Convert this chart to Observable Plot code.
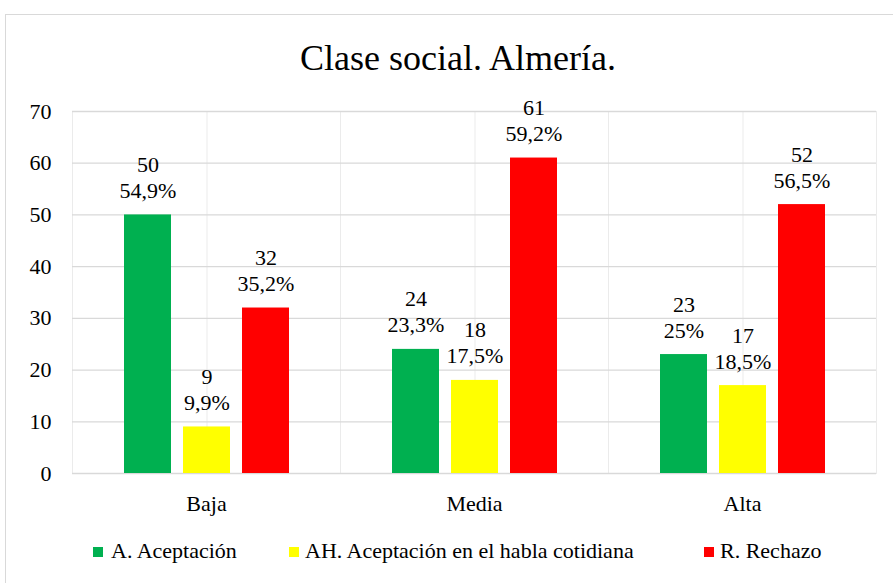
<!DOCTYPE html>
<html>
<head>
<meta charset="utf-8">
<script src="https://cdn.jsdelivr.net/npm/d3@7"></script>
<script src="https://cdn.jsdelivr.net/npm/@observablehq/plot@0.6"></script>
<style>
  body { margin: 0; padding: 0; background: #fff; font-family: 'Liberation Serif' !important; }
  #frame { position: absolute; left: 5px; top: 14px; width: 920px; height: 600px; border: 1px solid #d9d9d9; box-sizing: border-box; }
  #title { position: absolute; left: 0; top: 40px; width: 916px; text-align: center; font-size: 36px; line-height: 36px; color: #000; }
  #chart { position: absolute; left: 0; top: 90px; }
  .leg { position: absolute; top: 540px; font-size: 22px; line-height: 22px; color: #000; white-space: nowrap; }
  .sw { position: absolute; width: 10px; height: 10px; top: 547px; }
  svg, svg text, svg tspan, svg g { font-family: 'Liberation Serif' !important; }
</style>
</head>
<body>
<div id="frame"></div>
<div id="title">Clase social. Almería.</div>
<div id="chart"></div>
<div id="legend"></div>
<script>
const categories = ["Baja", "Media", "Alta"];
const series = ["A. Aceptación", "AH. Aceptación en el habla cotidiana", "R. Rechazo"];
const aceptacion = [50, 24, 23];
const habla = [9, 18, 17];
const rechazo = [32, 61, 52];
const aceptacionPct = ["54,9%", "23,3%", "25%"];
const hablaPct = ["9,9%", "17,5%", "18,5%"];
const rechazoPct = ["35,2%", "59,2%", "56,5%"];
const colors = ["#00B050", "#FFFF00", "#FF0000"];
const yTicks = [0, 10, 20, 30, 40, 50, 60, 70];

const values = [aceptacion, habla, rechazo];
const pcts = [aceptacionPct, hablaPct, rechazoPct];
const data = [];
categories.forEach((c, ci) => {
  series.forEach((s, si) => {
    data.push({category: c, series: s, value: values[si][ci], pct: pcts[si][ci]});
  });
});

const FONT = "Liberation Serif";

const chart = Plot.plot({
  width: 893,
  height: 435,
  marginLeft: 71,
  marginRight: 17,
  marginTop: 21,
  marginBottom: 52,
  style: {fontFamily: FONT, fontSize: "22px", background: "transparent", color: "#000"},
  fx: {domain: categories, padding: 0, label: null, axis: "bottom", tickSize: 0, tickPadding: 22},
  x: {domain: series, paddingInner: 0.21, paddingOuter: 0.86, axis: null},
  y: {domain: [0, 70], ticks: yTicks, tickSize: 0, tickPadding: 21, label: null},
  color: {domain: series, range: colors},
  marks: [
    Plot.frame({stroke: "#ebebeb"}),
    Plot.ruleX([series[1]], {x: d => d, stroke: "#ebebeb"}),
    Plot.ruleY(yTicks, {stroke: "#d9d9d9", strokeWidth: 1.3}),
    Plot.barY(data, {fx: "category", x: "series", y: "value", fill: "series"}),
    Plot.text(data, {
      fx: "category", x: "series", y: "value",
      text: d => `${d.value}\n${d.pct}`,
      lineAnchor: "bottom", lineHeight: 1.18, dy: -17, fontSize: 22, fill: "#000"
    })
  ]
});
document.getElementById("chart").appendChild(chart);

const legend = document.getElementById("legend");
const swX = [93, 289, 704];
const txX = [111, 305, 720];
series.forEach((s, i) => {
  const sw = document.createElement("div");
  sw.className = "sw";
  sw.style.left = swX[i] + "px";
  sw.style.background = colors[i];
  legend.appendChild(sw);
  const t = document.createElement("div");
  t.className = "leg";
  t.style.left = txX[i] + "px";
  t.textContent = s;
  legend.appendChild(t);
});

document.querySelectorAll("div, svg, text, tspan, g").forEach(el => {
  el.style.setProperty("font-family", "'Liberation Serif'", "important");
  if (el.tagName === "text" || el.tagName === "g" || el.tagName === "svg") el.setAttribute("font-family", FONT);
});
</script>
</body>
</html>
